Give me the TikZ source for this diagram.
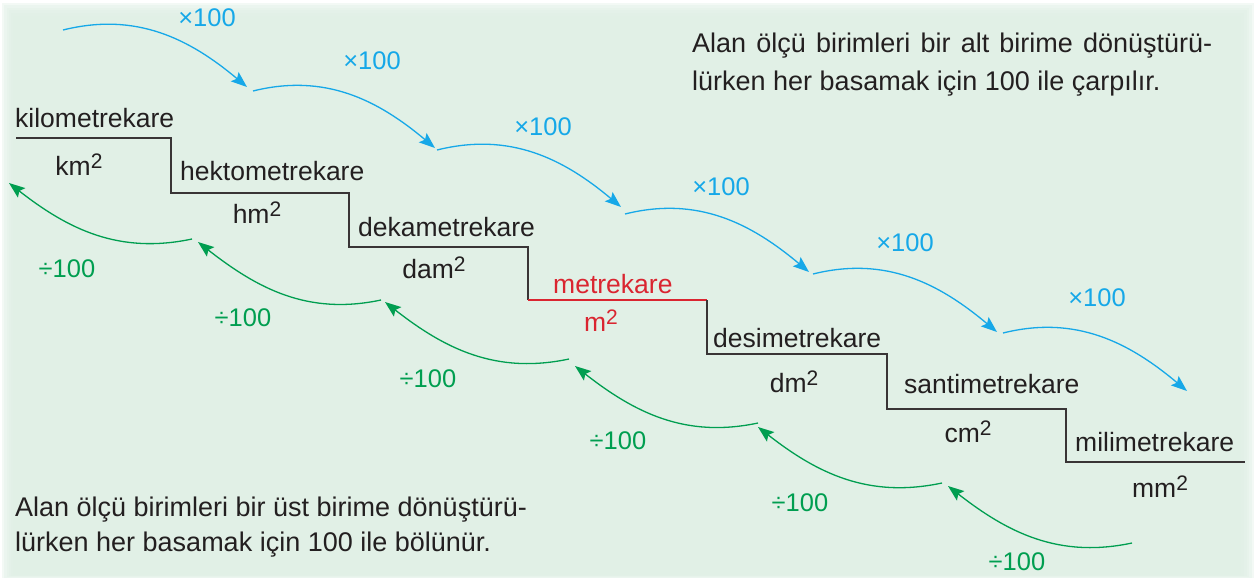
\documentclass[tikz,border=0pt]{standalone}
\usepackage{fontspec}
\setmainfont{Liberation Sans}
\usetikzlibrary{arrows.meta}
\definecolor{bgg}{RGB}{225,240,230}
\definecolor{ink}{RGB}{35,31,32}
\definecolor{mulc}{RGB}{22,168,232}
\definecolor{divc}{RGB}{0,158,80}
\definecolor{redc}{RGB}{218,37,48}
\newcommand\labfont{\fontsize{26.5}{31}\selectfont}
\newcommand\oplabfont{\fontsize{25.5}{30}\selectfont}
\newcommand\parfont{\fontsize{27}{32}\selectfont}
\newcommand\sqr{\raisebox{7pt}{\fontsize{21}{21}\selectfont 2}}
\tikzset{
  namelbl/.style={font=\labfont, text=ink, inner sep=0pt, anchor=base west},
  unitlbl/.style={font=\labfont, text=ink, inner sep=0pt, anchor=base},
  parline/.style={font=\parfont, text=ink, inner sep=0pt, anchor=base west},
  stepline/.style={draw=ink!90, line width=1.4pt, line join=miter},
  mularrow/.style={draw=mulc, line width=1.3pt, -{Stealth[length=16pt,width=12pt,inset=3pt]}},
  divarrow/.style={draw=divc, line width=1.3pt, -{Stealth[length=16pt,width=12pt,inset=3pt]}},
  mullbl/.style={font=\oplabfont, text=mulc, inner sep=0pt},
  divlbl/.style={font=\oplabfont, text=divc, inner sep=0pt}
}
\begin{document}
\begin{tikzpicture}[x=1pt,y=1pt]
\useasboundingbox (0,0) rectangle (1257,-579);
\fill[white] (0,0) rectangle (1257,-579);
\foreach \k in {1,...,8}
  \fill[bgg, opacity=0.4] (2.2*\k,-2.6*\k) rectangle (1257-2.6*\k,-579+0.7*\k);

% staircase
\draw[stepline] (16,-138) -- (171,-138) -- (171,-193) -- (349,-193) -- (349,-247) -- (528,-247) -- (528,-300);
\draw[draw=redc, line width=1.4pt] (528,-300) -- (707,-300);
\draw[stepline] (707,-300) -- (707,-354) -- (887,-354) -- (887,-409) -- (1066,-409) -- (1066,-462) -- (1245,-462);

% names
\node[namelbl] (n1) at (15,-127) {kilometrekare};
\node[namelbl] (n2) at (180,-180) {hektometrekare};
\node[namelbl] (n3) at (358,-236) {dekametrekare};
\node[namelbl, text=redc] (n4) at (553,-293) {metrekare};
\node[namelbl] (n5) at (713,-347) {desimetrekare};
\node[namelbl] (n6) at (904,-393) {santimetrekare};
\node[namelbl] (n7) at (1075,-451) {milimetrekare};

% units
\node[unitlbl] (u1) at (79,-175) {km\sqr};
\node[unitlbl] (u2) at (257,-223) {hm\sqr};
\node[unitlbl] (u3) at (434,-278) {dam\sqr};
\node[unitlbl, text=redc] (u4) at (601,-331) {m\sqr};
\node[unitlbl] (u5) at (794,-392) {dm\sqr};
\node[unitlbl] (u6) at (968,-442) {cm\sqr};
\node[unitlbl] (u7) at (1160,-497) {mm\sqr};

% multiply arrows
\coordinate (b1s) at (63,-30);   \coordinate (b1e) at (247,-87);
\coordinate (b2s) at (253,-91);  \coordinate (b2e) at (435,-148);
\coordinate (b3s) at (437,-150); \coordinate (b3e) at (621,-207);
\coordinate (b4s) at (625,-214); \coordinate (b4e) at (809,-272);
\coordinate (b5s) at (813,-274); \coordinate (b5e) at (997,-332);
\coordinate (b6s) at (1003,-333);\coordinate (b6e) at (1187,-391);
\foreach \i in {1,...,6}
  \draw[mularrow] (b\i s) to[out=14, in=140] (b\i e);
\node[mullbl] (m1) at (207,-18) {×100};
\node[mullbl] (m2) at (372,-61) {×100};
\node[mullbl] (m3) at (543,-127) {×100};
\node[mullbl] (m4) at (721,-187) {×100};
\node[mullbl] (m5) at (905,-243) {×100};
\node[mullbl] (m6) at (1097,-298) {×100};

% divide arrows
\coordinate (g1s) at (192,-239);  \coordinate (g1e) at (9,-183);
\coordinate (g2s) at (381,-300);  \coordinate (g2e) at (198,-242);
\coordinate (g3s) at (569,-359);  \coordinate (g3e) at (385,-302);
\coordinate (g4s) at (758,-423);  \coordinate (g4e) at (575,-366);
\coordinate (g5s) at (942,-483);  \coordinate (g5e) at (758,-427);
\coordinate (g6s) at (1132,-543); \coordinate (g6e) at (948,-486);
\foreach \i in {1,...,6}
  \draw[divarrow] (g\i s) to[out=192, in=-38] (g\i e);
\node[divlbl] (d1) at (67,-269) {÷100};
\node[divlbl] (d2) at (243,-318) {÷100};
\node[divlbl] (d3) at (428,-379) {÷100};
\node[divlbl] (d4) at (618,-441) {÷100};
\node[divlbl] (d5) at (800,-503) {÷100};
\node[divlbl] (d6) at (1017,-562) {÷100};

% paragraphs
\node[parline] (p1) at (692,-52) {\makebox[520pt][s]{Alan ölçü birimleri bir alt birime dönüştürü-}};
\node[parline] (p2) at (692,-90) {lürken her basamak için 100 ile çarpılır.};
\node[parline] (p3) at (15,-516) {Alan ölçü birimleri bir üst birime dönüştürü-};
\node[parline] (p4) at (15,-551) {lürken her basamak için 100 ile bölünür.};
\end{tikzpicture}
\end{document}
